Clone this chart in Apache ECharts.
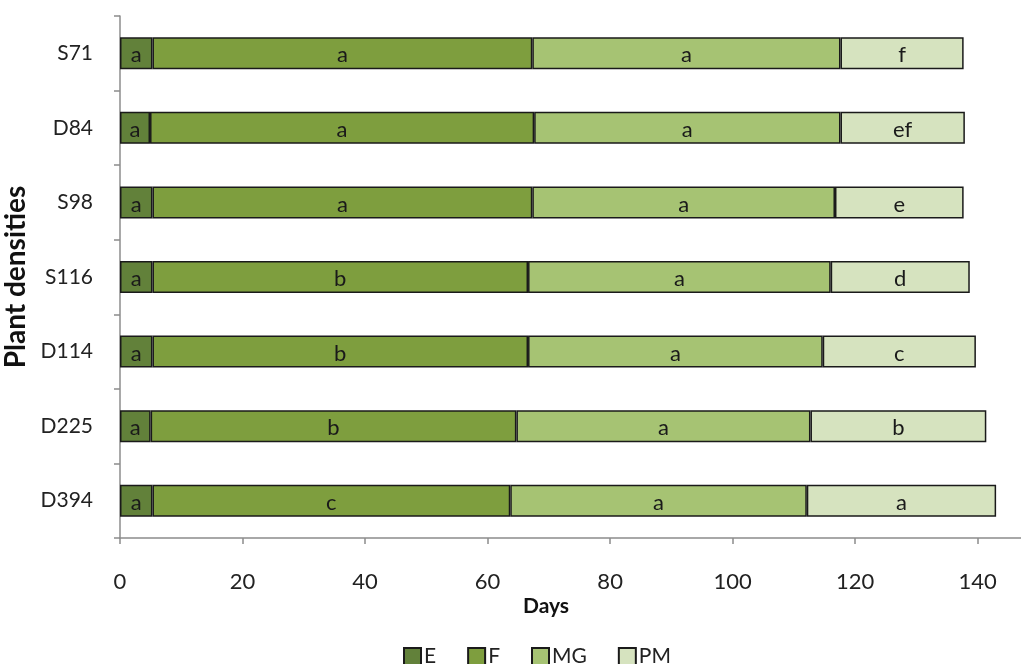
<!DOCTYPE html>
<html>
<head>
<meta charset="utf-8">
<script src="https://cdn.jsdelivr.net/npm/echarts@6/dist/echarts.min.js"></script>
<style>html,body{margin:0;padding:0;background:#fff}#c{width:1021px;height:664px}</style>
</head>
<body>
<div id="c"></div>
<script>
const categories = ['S71', 'D84', 'S98', 'S116', 'D114', 'D225', 'D394'];
const seriesNames = ['E', 'F', 'MG', 'PM'];
const E  = [5.3, 4.9, 5.3, 5.3, 5.3, 5.0, 5.3];
const F  = [62.0, 62.7, 62.0, 61.3, 61.3, 59.7, 58.4];
const MG = [50.3, 50.0, 49.4, 49.4, 48.1, 48.0, 48.4];
const PM = [20.1, 20.3, 21.0, 22.7, 25.0, 28.7, 30.9];
const lettersE  = ['a', 'a', 'a', 'a', 'a', 'a', 'a'];
const lettersF  = ['a', 'a', 'a', 'b', 'b', 'b', 'c'];
const lettersMG = ['a', 'a', 'a', 'a', 'a', 'a', 'a'];
const lettersPM = ['f', 'ef', 'e', 'd', 'c', 'b', 'a'];
const xTicks = [0, 20, 40, 60, 80, 100, 120, 140];

const values = [E, F, MG, PM];
const letters = [lettersE, lettersF, lettersMG, lettersPM];
const colors = ['#62813a', '#7e9e3e', '#a6c373', '#d6e3bf'];
const FONT = 'Lato, "Open Sans", sans-serif';

const chart = echarts.init(document.getElementById('c'), null, {renderer: 'canvas'});
chart.setOption({
  animation: false,
  backgroundColor: '#ffffff',
  grid: {left: 120, width: 919, top: 16, bottom: 126, containLabel: false, outerBoundsMode: 'none'},
  xAxis: {
    type: 'value', min: 0, max: 150, interval: 20,
    axisLine: {show: true, lineStyle: {color: '#8c8c8c', width: 1.5}},
    axisTick: {show: true, length: 6, lineStyle: {color: '#8c8c8c', width: 1.5}},
    splitLine: {show: false},
    axisLabel: {margin: 33, fontSize: 22, color: '#222', fontFamily: FONT,
      formatter: v => xTicks.includes(v) ? String(v) : ''}
  },
  yAxis: {
    type: 'category', data: categories, inverse: true,
    name: 'Plant densities', nameLocation: 'middle', nameGap: 88,
    nameTextStyle: {fontSize: 28, fontWeight: 'bold', color: '#111', fontFamily: FONT},
    axisLine: {show: true, lineStyle: {color: '#8c8c8c', width: 1.5}},
    axisTick: {show: true, length: 6, alignWithLabel: false, lineStyle: {color: '#8c8c8c', width: 1.5}},
    axisLabel: {margin: 27, fontSize: 21, color: '#222', fontFamily: FONT}
  },
  legend: {
    data: seriesNames, left: 398, top: 641, itemWidth: 17, itemHeight: 17, itemGap: 31,
    icon: 'rect',
    textStyle: {fontSize: 21, color: '#222', fontFamily: FONT, padding: [0, 0, 0, -2]}
  },
  graphic: [{
    type: 'text', x: 546, y: 606,
    style: {text: 'Days', fontSize: 21, fontWeight: 'bold', fill: '#111', fontFamily: FONT,
      textAlign: 'center', textVerticalAlign: 'middle'}
  }],
  series: seriesNames.map((name, i) => ({
    name: name, type: 'bar', stack: 'total', barWidth: 32,
    itemStyle: {color: colors[i], borderColor: '#1a1a1a', borderWidth: 1.5},
    label: {show: true, position: 'inside', fontSize: 22, color: '#1a1a1a', fontFamily: FONT,
      offset: [0, 2],
      formatter: p => letters[i][p.dataIndex]},
    data: values[i]
  }))
});
</script>
</body>
</html>
